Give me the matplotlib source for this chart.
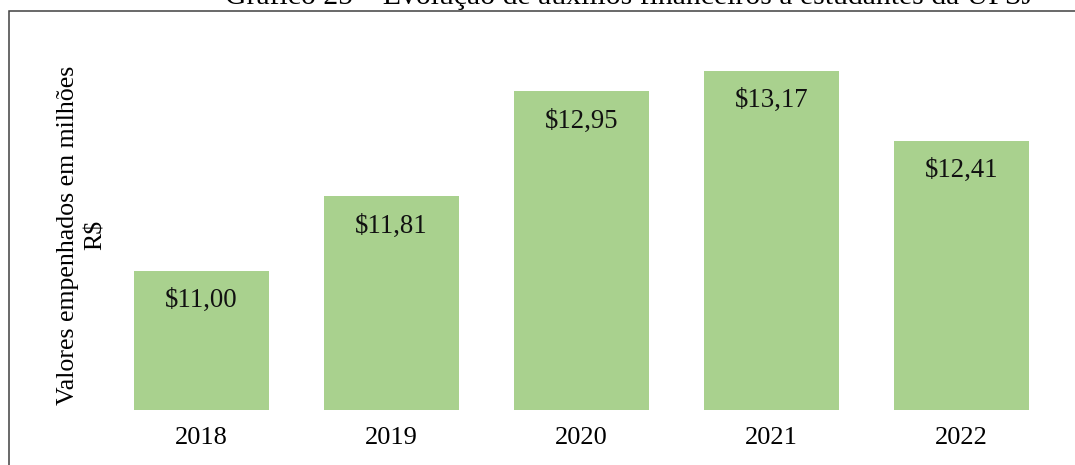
import matplotlib
matplotlib.use("Agg")
import matplotlib.pyplot as plt
from matplotlib.patches import Rectangle

# ---------------------------------------
# DATA
# ---------------------------------------
anos = ["2018", "2019", "2020", "2021", "2022"]
valores = [11.00, 11.81, 12.95, 13.17, 12.41]
rotulos = ["$11,00", "$11,81", "$12,95", "$13,17", "$12,41"]

titulo = "Gráfico 25 – Evolução de auxílios financeiros a estudantes da UFSJ"
eixo_y = "Valores empenhados em milhões\nR$"

# ---------------------------------------
# PLOT
# ---------------------------------------
plt.rcParams["font.family"] = ["Liberation Serif", "DejaVu Serif"]

W, H = 1075, 465
fig = plt.figure(figsize=(W / 100, H / 100), dpi=100)

# outer frame (only top and left visible in the reference)
fig.patches.append(Rectangle((9 / W, -0.1), 1.2, 1 - 11 / H + 0.1,
                             transform=fig.transFigure, fill=False,
                             edgecolor="#404040", linewidth=1.1))

ax = fig.add_axes([106.5 / W, 55 / H, 950 / W, 396 / H])
x = range(len(anos))
ax.bar(x, valores, width=0.71, color="#A9D18E")
ax.set_xlim(-0.5, len(anos) - 0.5)
ax.set_ylim(9.49, 13.785)

for xi, v, txt in zip(x, valores, rotulos):
    ax.annotate(txt, (xi, v), xytext=(0, -30), textcoords="offset pixels",
                ha="center", va="center", fontsize=19.3, color="#111111")

ax.set_xticks(list(x))
ax.set_xticklabels(anos, fontsize=19)
ax.tick_params(axis="x", length=0, pad=12)
ax.set_yticks([])
for s in ax.spines.values():
    s.set_visible(False)

fig.text(82 / W, 1 - 235 / H, eixo_y, rotation=90, ha="center", va="center",
         fontsize=18.6, multialignment="center", linespacing=1.35)

fig.text(629 / W, 1 - 4.5 / H, titulo, ha="center", va="baseline",
         fontsize=21.4)

fig.savefig("out.png", dpi=100)
